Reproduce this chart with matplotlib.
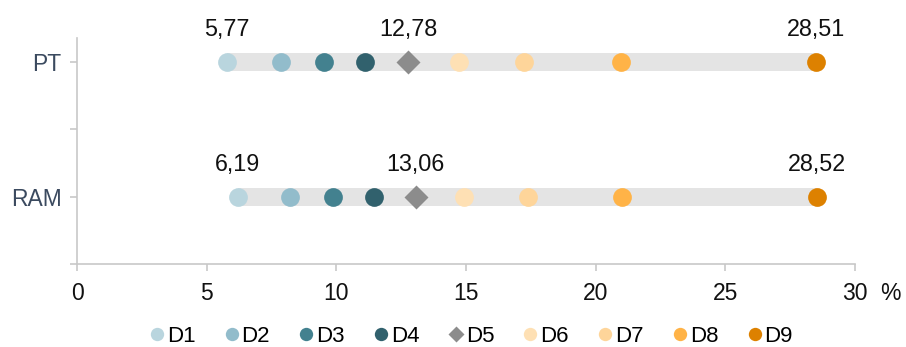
import matplotlib.pyplot as plt
from matplotlib.lines import Line2D

plt.rcParams['font.family'] = ['Liberation Sans', 'DejaVu Sans']

# data
groups = ["RAM", "PT"]
deciles = ["D1", "D2", "D3", "D4", "D5", "D6", "D7", "D8", "D9"]
pt_values = [5.77, 7.86, 9.51, 11.12, 12.78, 14.72, 17.22, 20.99, 28.51]
ram_values = [6.19, 8.23, 9.86, 11.47, 13.06, 14.94, 17.40, 21.01, 28.52]
labelled = ["D1", "D5", "D9"]

colors = ["#b9d5de", "#92bccb", "#43818f", "#31616d", "#8c8c8c",
          "#fee0b4", "#fed59a", "#ffb347", "#dd8100"]
band_color = "#e4e4e4"
axis_color = "#c8c8c8"

fig = plt.figure(figsize=(9.06, 3.47), dpi=100)
ax = fig.add_axes([0.085, 0.2392, 0.8587, 0.6513])

rows = {"RAM": ram_values, "PT": pt_values}
for yi, g in enumerate(groups):
    vals = rows[g]
    # grey band from D1 to D9
    ax.barh(yi, vals[-1] - vals[0], left=vals[0], height=0.135,
            color=band_color, zorder=1)
    for d, v, c in zip(deciles, vals, colors):
        if d == "D5":
            ax.plot(v, yi, marker="D", ms=11.8, color=c, mec="none", zorder=3)
        else:
            ax.plot(v, yi, marker="o", ms=13.5, color=c, mec="none", zorder=3)
        if d in labelled:
            ax.annotate(f"{v:.2f}".replace(".", ","), (v, yi),
                        xytext=(0, 23.5), textcoords="offset points",
                        ha="center", va="center", fontsize=16.8, color="#111111")

ax.set_xlim(0, 30)
ax.set_ylim(-0.5, 1.178)
ax.set_xticks(range(0, 31, 5))
ax.set_yticks([0, 1])
ax.set_yticklabels(groups)
ax.set_yticks([-0.5, 0.5], minor=True)

for s in ["top", "right"]:
    ax.spines[s].set_visible(False)
for s in ["left", "bottom"]:
    ax.spines[s].set_color(axis_color)
    ax.spines[s].set_linewidth(1.2)

ax.tick_params(axis="x", colors=axis_color, labelcolor="#111111",
               labelsize=16.5, length=5, width=1.2, pad=8)
ax.tick_params(axis="y", which="both", colors=axis_color, labelcolor="#3b4a5f",
               labelsize=16.5, length=5, width=1.2, pad=6)

fig.text(890 / 906, 1 - 293 / 347, "%", fontsize=16.5, color="#111111",
         ha="center", va="center")

handles = []
for d, c in zip(deciles, colors):
    m = "D" if d == "D5" else "o"
    handles.append(Line2D([], [], linestyle="none", marker=m, color=c,
                          mec="none", ms=8 if m == "D" else 9.6, label=d))
fig.legend(handles=handles, loc="center", bbox_to_anchor=(0.5204, 0.031),
           ncol=9, frameon=False, fontsize=16, handlelength=0.6,
           handletextpad=0.15, columnspacing=1.33, borderaxespad=0,
           borderpad=0)

fig.savefig("out.png", dpi=100)
